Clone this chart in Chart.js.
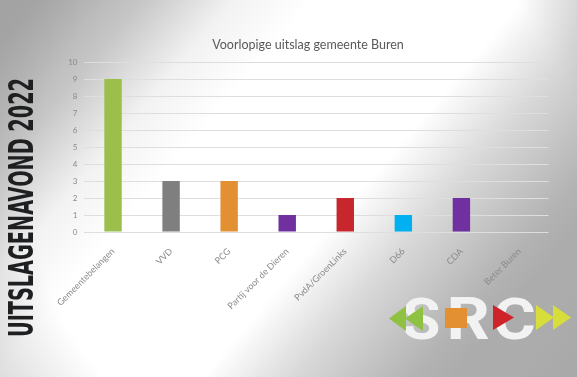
<!DOCTYPE html>
<html>
<head>
<meta charset="utf-8">
<script src="https://cdn.jsdelivr.net/npm/chart.js@4"></script>
<style>
  html, body { margin: 0; padding: 0; }
  #wrap { position: relative; width: 577px; height: 377px; }
</style>
</head>
<body>
<div id="wrap"><canvas id="uitslag"></canvas></div>
<script>
// uitslag per partij (zetels)
const parties = ['Gemeentebelangen', 'VVD', 'PCG', 'Partij voor de Dieren', 'PvdA/GroenLinks', 'D66', 'CDA', 'Beter Buren'];
const seats = [9, 3, 3, 1, 2, 1, 2, 0];
const partyColors = ['#9bbf4a', '#7f7f7f', '#e39032', '#7030a0', '#c8262d', '#00b0f0', '#7030a0', '#a5a5a5'];
const yMin = 0;
const yMax = 10;
const yStep = 1;

const titleText = 'Voorlopige uitslag gemeente Buren';
const sideText = 'UITSLAGENAVOND 2022';

// grijze achtergrond met witte diagonale band
const backdrop = {
  id: 'backdrop',
  beforeDraw(chart) {
    const ctx = chart.ctx;
    const w = chart.width, h = chart.height;
    ctx.save();
    const g = ctx.createLinearGradient(218.5, -213.5, 645.3, 148.8);
    g.addColorStop(0, '#a8a8a8');
    g.addColorStop(0.143, '#c6c6c6');
    g.addColorStop(0.268, '#f2f2f2');
    g.addColorStop(0.375, '#ffffff');
    g.addColorStop(0.661, '#ffffff');
    g.addColorStop(0.786, '#d8d8d8');
    g.addColorStop(0.946, '#b3b3b3');
    g.addColorStop(1, '#acacac');
    ctx.fillStyle = g;
    ctx.fillRect(0, 0, w, h);
    const v = ctx.createRadialGradient(310, 190, 0, 310, 190, 370);
    v.addColorStop(0, 'rgba(150,150,150,0)');
    v.addColorStop(0.75, 'rgba(150,150,150,0)');
    v.addColorStop(1, 'rgba(150,150,150,0.35)');
    ctx.fillStyle = v;
    ctx.fillRect(0, 0, w, h);
    ctx.restore();
  }
};

// titel, verticale tekst links en SRC logo rechtsonder
const decor = {
  id: 'decor',
  afterDraw(chart) {
    const ctx = chart.ctx;
    ctx.save();
    ctx.fillStyle = '#595959';
    ctx.font = '12.5px Lato, "Open Sans", sans-serif';
    ctx.textAlign = 'center';
    ctx.textBaseline = 'middle';
    ctx.fillText(titleText, 308, 45);
    ctx.restore();

    ctx.save();
    ctx.translate(33, 337);
    ctx.rotate(-Math.PI / 2);
    ctx.font = 'bold 34px "Liberation Sans Narrow", "DejaVu Sans Condensed", sans-serif';
    const tw = ctx.measureText(sideText).width;
    ctx.scale(259 / tw, 1);
    ctx.fillStyle = '#1e1f21';
    ctx.textBaseline = 'alphabetic';
    ctx.fillText(sideText, 0, 0);
    ctx.restore();

    // letters S R C, elk in een eigen vak
    const letter = (ch, x0, x1) => {
      ctx.save();
      ctx.font = 'bold 59px Roboto, sans-serif';
      const m = ctx.measureText(ch);
      const lw = m.actualBoundingBoxLeft + m.actualBoundingBoxRight;
      const lh = m.actualBoundingBoxAscent;
      ctx.translate(x0, 339);
      ctx.scale((x1 - x0) / lw, 42 / lh);
      ctx.fillStyle = '#f2f2f2';
      ctx.textBaseline = 'alphabetic';
      ctx.fillText(ch, m.actualBoundingBoxLeft, 0);
      ctx.restore();
    };
    letter('S', 403, 439);
    letter('R', 450, 489);
    letter('C', 495, 534);

    const tri = (x1, x2, y0, y1, color) => {
      ctx.beginPath();
      ctx.moveTo(x1, y0);
      ctx.lineTo(x1, y1);
      ctx.lineTo(x2, (y0 + y1) / 2);
      ctx.closePath();
      ctx.fillStyle = color;
      ctx.fill();
    };
    ctx.save();
    tri(406, 389, 306, 331, '#8fc142');
    tri(423, 405, 306, 331, '#8fc142');
    ctx.fillStyle = '#e39032';
    ctx.fillRect(445, 308, 22, 20);
    tri(493, 514, 305, 330, '#cf2229');
    tri(536, 554, 305, 330, '#d7dd3a');
    tri(553, 571, 305, 330, '#d7dd3a');
    ctx.restore();
  }
};

const config = {
  type: 'bar',
  data: {
    labels: parties,
    datasets: [{
      data: seats,
      backgroundColor: partyColors,
      barPercentage: 0.3,
      categoryPercentage: 1
    }]
  },
  options: {
    responsive: true,
    maintainAspectRatio: false,
    animation: false,
    layout: { padding: { left: 0, right: 28.5, top: 62, bottom: 45 } },
    plugins: {
      legend: { display: false },
      tooltip: { enabled: false },
      title: { display: false }
    },
    scales: {
      x: {
        grid: { display: false },
        border: { display: false },
        ticks: {
          color: '#8a8a8a',
          font: { family: 'Lato, "Open Sans", sans-serif', size: 9 },
          maxRotation: 45,
          minRotation: 45,
          padding: 6,
          autoSkip: false
        },
        afterFit(scale) { scale.height = 100; }
      },
      y: {
        min: yMin,
        max: yMax,
        grid: { color: '#dedede', drawTicks: false },
        border: { display: false },
        ticks: {
          stepSize: yStep,
          color: '#8a8a8a',
          font: { family: 'Lato, "Open Sans", sans-serif', size: 8 },
          padding: 6.5
        },
        afterFit(scale) { scale.width = 84; }
      }
    }
  },
  plugins: [backdrop, decor]
};

const ctxUitslag = document.getElementById('uitslag');
window.myBar = new Chart(ctxUitslag, config);
</script>
</body>
</html>
